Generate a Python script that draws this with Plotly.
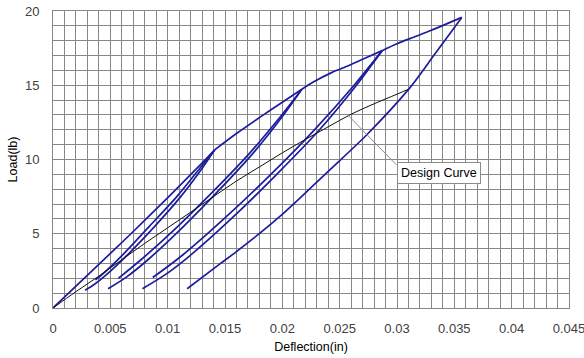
import plotly.graph_objects as go

# ---------------- data ----------------
# initial loading from origin to first peak
load0_x = [0, 0.0034, 0.0068, 0.0101, 0.0128, 0.0141]
load0_y = [0, 2.5, 5.0, 7.5, 9.6, 10.65]

# unloading 1
unl1_x = [0.0141, 0.01309, 0.01114, 0.00887, 0.00652, 0.00459, 0.00362, 0.0028]
unl1_y = [10.65, 9.5, 7.5, 5.5, 3.6, 2.2, 1.6, 1.2]
# reloading 1
rel1_x = [0.0037, 0.0042, 0.0061, 0.0084, 0.0108, 0.0129, 0.0141]
rel1_y = [1.9, 2.2, 3.6, 5.5, 7.5, 9.5, 10.65]

# envelope 1 -> 2
env12_x = [0.0141, 0.0160, 0.0180, 0.0200, 0.0217]
env12_y = [10.65, 11.75, 12.82, 13.86, 14.73]

unl2_x = [0.0217, 0.0201, 0.01753, 0.01456, 0.01139, 0.00835, 0.00643, 0.0048]
unl2_y = [14.73, 13.0, 10.5, 8.0, 5.5, 3.3, 2.1, 1.3]
rel2_x = [0.0057, 0.00775, 0.01089, 0.01416, 0.01723, 0.01995, 0.0217]
rel2_y = [2.0, 3.3, 5.5, 8.0, 10.5, 13.0, 14.73]

env23_x = [0.0217, 0.0227, 0.0243, 0.0258, 0.0273, 0.0287]
env23_y = [14.73, 15.22, 15.85, 16.33, 16.85, 17.33]

unl3_x = [0.0287, 0.02646, 0.02324, 0.01951, 0.01553, 0.0119, 0.00989, 0.0078]
unl3_y = [17.33, 15.0, 12.0, 9.0, 6.0, 3.5, 2.3, 1.3]
rel3_x = [0.0087, 0.0112, 0.0149, 0.0190, 0.0228, 0.02626, 0.0287]
rel3_y = [2.05, 3.5, 6.0, 9.0, 12.0, 15.0, 17.33]

env34_x = [0.0287, 0.0300, 0.0315, 0.0330, 0.03565]
env34_y = [17.33, 17.8, 18.25, 18.7, 19.57]

unl4_x = [0.03565, 0.0333, 0.03108, 0.02728, 0.02412, 0.02151, 0.01976, 0.0175, 0.01592, 0.01453, 0.0117]
unl4_y = [19.57, 17.1, 14.79, 11.6, 9.29, 7.39, 6.15, 4.7, 3.75, 2.95, 1.3]

# design curve
design_x = [0, 0.002, 0.004, 0.006, 0.008, 0.010, 0.012, 0.014, 0.016, 0.018,
            0.020, 0.022, 0.024, 0.026, 0.028, 0.030, 0.031]
design_y = [0, 1.1, 2.15, 3.25, 4.35, 5.4, 6.45, 7.5, 8.55, 9.5,
            10.45, 11.35, 12.2, 13.05, 13.75, 14.4, 14.73]

x_ticks = [0, 0.005, 0.01, 0.015, 0.02, 0.025, 0.03, 0.035, 0.04, 0.045]
x_tick_labels = ["0", "0.005", "0.01", "0.015", "0.02", "0.025", "0.03", "0.035", "0.04", "0.045"]
y_ticks = [0, 5, 10, 15, 20]
y_tick_labels = ["0", "5", "10", "15", "20"]

# annotation anchor (point on design curve) and label box position
ann_point = (0.0257, 13.0)
ann_corner = (0.02996, 9.63)
ann_label = (0.03367, 9.06)

BLUE = "#1c1c9c"
GRID = "#888888"
FONT = "Liberation Sans, Arial"

fig = go.Figure()

segments = [
    (load0_x, load0_y), (unl1_x, unl1_y), (rel1_x, rel1_y), (env12_x, env12_y),
    (unl2_x, unl2_y), (rel2_x, rel2_y), (env23_x, env23_y),
    (unl3_x, unl3_y), (rel3_x, rel3_y), (env34_x, env34_y), (unl4_x, unl4_y),
]
for sx, sy in segments:
    fig.add_trace(go.Scatter(x=sx, y=sy, mode="lines",
                             line=dict(color=BLUE, width=1.7, shape="spline", smoothing=0.8),
                             showlegend=False, hoverinfo="skip"))

fig.add_trace(go.Scatter(x=design_x, y=design_y, mode="lines",
                         line=dict(color="#111111", width=1, shape="spline"),
                         showlegend=False, hoverinfo="skip"))

fig.add_shape(type="line", xref="x", yref="y",
              x0=ann_point[0], y0=ann_point[1], x1=ann_corner[0], y1=ann_corner[1],
              line=dict(color="#8a8a8a", width=1))
fig.add_annotation(x=ann_label[0], y=ann_label[1], xref="x", yref="y",
                   text="Design Curve", showarrow=False,
                   font=dict(family=FONT, size=12.5, color="#000000"),
                   bgcolor="#ffffff", bordercolor="#8a8a8a", borderwidth=1, borderpad=3)

fig.update_layout(
    width=584, height=358,
    margin=dict(l=53, r=15, t=11, b=50),
    paper_bgcolor="#ffffff", plot_bgcolor="#ffffff",
    font=dict(family=FONT, size=13, color="#404040"),
)
fig.update_xaxes(
    range=[0, 0.0450001], tickvals=x_ticks, ticktext=x_tick_labels,
    showgrid=True, gridcolor=GRID, gridwidth=1,
    minor=dict(dtick=0.001, tick0=0, showgrid=True, gridcolor=GRID, gridwidth=1),
    showline=True, linecolor=GRID, mirror=True, zeroline=False,
    ticks="", ticklabelstandoff=8, automargin=False, ticklabeloverflow="allow",
    title=dict(text="Deflection(in)", font=dict(size=12.5, color="#000000"), standoff=7),
)
fig.update_yaxes(
    range=[0, 20.00001], tickvals=y_ticks, ticktext=y_tick_labels,
    showgrid=True, gridcolor=GRID, gridwidth=1,
    minor=dict(dtick=1, tick0=0, showgrid=True, gridcolor=GRID, gridwidth=1),
    showline=True, linecolor=GRID, mirror=True, zeroline=False,
    ticks="", ticklabelstandoff=10, automargin=False,
    title=dict(text="Load(lb)", font=dict(size=12.5, color="#000000"), standoff=4),
)

fig.write_html("out.html", config={"displayModeBar": False},
               post_script="document.body.style.margin='0';")
